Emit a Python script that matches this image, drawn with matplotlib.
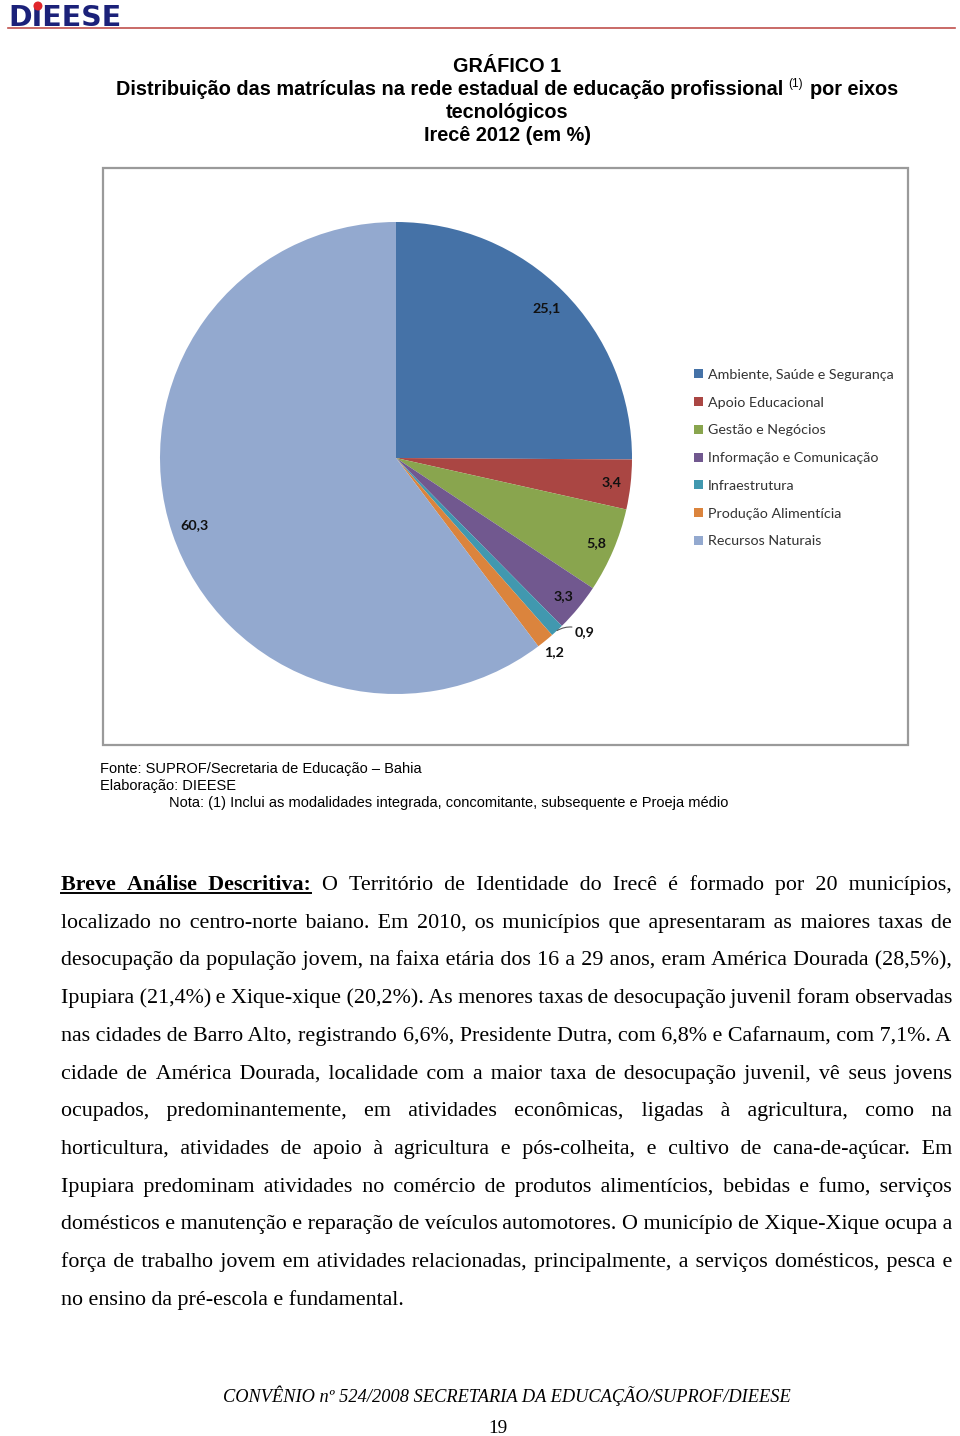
import matplotlib
matplotlib.use('Agg')
import matplotlib.pyplot as plt
from matplotlib.patches import Rectangle, Circle
from matplotlib.font_manager import FontProperties, findfont
from matplotlib.ft2font import FT2Font
from itertools import combinations_with_replacement
import numpy as np

W, H = 960, 1436

# chart data
categories = ['Ambiente, Saúde e Segurança', 'Apoio Educacional', 'Gestão e Negócios',
              'Informação e Comunicação', 'Infraestrutura', 'Produção Alimentícia',
              'Recursos Naturais']
shares = [25.1, 3.4, 5.8, 3.3, 0.9, 1.2, 60.3]
colors = ['#4572A7', '#AA4643', '#89A54E', '#71588F', '#4198AF', '#DB843D', '#93A9CF']
label_r = [0.90, 0.92, 0.92, 0.92, 1.0, 1.06, 0.90]

title_lines = ['GRÁFICO 1',
               'Distribuição das matrículas na rede estadual de educação profissional',
               'tecnológicos',
               'Irecê 2012 (em %)']
notes = ['Fonte: SUPROF/Secretaria de Educação – Bahia',
         'Elaboração: DIEESE',
         'Nota: (1) Inclui as modalidades integrada, concomitante, subsequente e Proeja médio']

paragraph = [
    'Breve Análise Descritiva: O Território de Identidade do Irecê é formado por 20 municípios,',
    'localizado no centro-norte baiano. Em 2010, os municípios que apresentaram as maiores taxas de',
    'desocupação da população jovem, na faixa etária dos 16 a 29 anos, eram América Dourada (28,5%),',
    'Ipupiara (21,4%) e Xique-xique (20,2%). As menores taxas de desocupação juvenil foram observadas',
    'nas cidades de Barro Alto, registrando 6,6%, Presidente Dutra, com 6,8% e Cafarnaum, com 7,1%. A',
    'cidade de América Dourada, localidade com a maior taxa de desocupação juvenil, vê seus jovens',
    'ocupados, predominantemente, em atividades econômicas, ligadas à agricultura, como na',
    'horticultura, atividades de apoio à agricultura e pós-colheita, e cultivo de cana-de-açúcar. Em',
    'Ipupiara predominam atividades no comércio de produtos alimentícios, bebidas e fumo, serviços',
    'domésticos e manutenção e reparação de veículos automotores. O município de Xique-Xique ocupa a',
    'força de trabalho jovem em atividades relacionadas, principalmente, a serviços domésticos, pesca e',
    'no ensino da pré-escola e fundamental.',
]
n_bold = 3  # "Breve Análise Descritiva:" is bold + underlined
footer = 'CONVÊNIO nº 524/2008 SECRETARIA DA EDUCAÇÃO/SUPROF/DIEESE'
page_no = '19'

SANS = 'Liberation Sans'
SERIF = 'Liberation Serif'
CHART_FONT = 'Lato'

fig = plt.figure(figsize=(W / 100, H / 100), dpi=100)
fig.patch.set_facecolor('white')

# overlay axes in pixel coords (y down)
ov = fig.add_axes([0, 0, 1, 1])
ov.set_xlim(0, W)
ov.set_ylim(H, 0)
ov.axis('off')
renderer = fig.canvas.get_renderer()


def text_w(s, **kw):
    t = ov.text(0, 0, s, **kw)
    w = t.get_window_extent(renderer).width
    t.remove()
    return w


def fp_w(s, fp):
    return renderer.get_text_width_height_descent(s, fp, ismath=False)[0]


# header logo
ov.text(8, 26, 'DIEESE', family='DejaVu Sans', weight='bold', fontsize=20.5,
        color='#1B2179', va='baseline', ha='left')
d_w = text_w('D', family='DejaVu Sans', weight='bold', fontsize=20.5)
i_w = text_w('DI', family='DejaVu Sans', weight='bold', fontsize=20.5) - d_w
ov.add_patch(Circle((8 + d_w + i_w / 2 + 1, 6), 3.8, color='#E0262B', zorder=5))
ov.plot([8, 955], [28, 28], color='#C0504D', lw=1.2)

# title
title_base = [72, 95, 118, 141]
cx = 507
for i, s in enumerate(title_lines):
    kw = dict(family=SANS, weight='bold', fontsize=14.3, va='baseline')
    if i == 1:
        sp = text_w('a a', **kw) - text_w('aa', **kw)
        sup_kw = dict(family=SANS, weight='normal', fontsize=8.5, va='baseline')
        w1 = text_w(s, **kw)
        w2 = text_w('(1)', **sup_kw)
        w3 = text_w('por eixos', **kw)
        total = w1 + sp + w2 + sp * 1.2 + w3
        x = cx - total / 2
        ov.text(x, title_base[i], s, ha='left', **kw)
        x += w1 + sp
        ov.text(x, title_base[i] - 8, '(1)', ha='left', **sup_kw)
        x += w2 + sp * 1.2
        ov.text(x, title_base[i], 'por eixos', ha='left', **kw)
    else:
        ov.text(cx, title_base[i], s, ha='center', **kw)

# chart frame
ov.add_patch(Rectangle((103, 168), 805, 577, fill=False, ec='#9A9A9A', lw=1.6))

# pie
pie_ax = fig.add_axes([160 / W, 1 - 694 / H, 472 / W, 472 / H])
wedges, _ = pie_ax.pie(shares, colors=colors, startangle=90, counterclock=False,
                       wedgeprops=dict(linewidth=0))
pie_ax.set_xlim(-1, 1)
pie_ax.set_ylim(-1, 1)
for w, v, r in zip(wedges, shares, label_r):
    ang = np.deg2rad((w.theta1 + w.theta2) / 2)
    x, y = r * np.cos(ang), r * np.sin(ang)
    lab = f'{v:.1f}'.replace('.', ',')
    kw = dict(family=CHART_FONT, weight='bold', fontsize=10.3, color='#111111')
    if v < 1:
        pie_ax.annotate(lab, xy=(x, y), xytext=(x + 0.075, y - 0.005), ha='left', va='center',
                        arrowprops=dict(arrowstyle='-', color='#555555', lw=0.8,
                                        connectionstyle='arc3,rad=0.3', shrinkA=0, shrinkB=0),
                        **kw)
    else:
        pie_ax.text(x, y, lab, ha='center', va='center', **kw)

fig.legend(wedges, categories, loc='upper left', bbox_to_anchor=(694 / W, 1 - 369 / H),
           frameon=False, borderpad=0, borderaxespad=0, handlelength=0.6, handleheight=0.6,
           handletextpad=0.35, labelspacing=1.1,
           prop=dict(family=CHART_FONT, size=10.3))
for t in fig.legends[0].get_texts():
    t.set_color('#333333')

# notes
note_base = [773, 790, 807]
note_x = [100, 100, 169]
for s, y, x in zip(notes, note_base, note_x):
    ov.text(x, y, s, family=SANS, fontsize=10.5, va='baseline', ha='left')

# justified paragraph: one text per style run, gaps built from the font's space glyphs
x0, x1 = 61, 952
base0, lead = 890, 37.7
fs = 15.8
fp_reg = FontProperties(family=SERIF, size=fs)
fp_bld = FontProperties(family=SERIF, size=fs, weight='bold')
SPACE_CHARS = [' '] + [chr(c) for c in range(0x2000, 0x200B)] + ['\u202f', '\u205f']


def space_combos(fp):
    ft = FT2Font(findfont(fp))
    chars = [ch for ch in SPACE_CHARS if ft.get_char_index(ord(ch))]
    base = fp_w('aa', fp)
    adv = {ch: fp_w('a' + ch + 'a', fp) - base for ch in chars}
    combos = {}
    for k in (1, 2, 3):
        for c in combinations_with_replacement(chars, k):
            total = sum(adv[ch] for ch in c)
            if total > 0:
                combos.setdefault(round(total, 2), ''.join(c))
    return sorted(combos.items())


combos_for = {id(fp_reg): space_combos(fp_reg), id(fp_bld): space_combos(fp_bld)}


def run_string(words, starts, fp):
    combos = combos_for[id(fp)]
    s = words[0]
    for wd, tx in zip(words[1:], starts[1:]):
        ww = fp_w(wd, fp)
        need = tx - (fp_w(s + wd, fp) - ww)
        sep = min(combos, key=lambda c: abs(c[0] - need))[1]
        s = s + sep + wd
    return s


for i, line in enumerate(paragraph):
    words = line.split(' ')
    y = base0 + i * lead
    fps = [fp_bld if (i == 0 and j < n_bold) else fp_reg for j in range(len(words))]
    widths = [fp_w(wd, f) for wd, f in zip(words, fps)]
    if i == len(paragraph) - 1:
        gap = fp_w('a a', fp_reg) - fp_w('aa', fp_reg)
    else:
        gap = (x1 - x0 - sum(widths)) / (len(words) - 1)
    starts = list(x0 + np.cumsum([0] + widths[:-1]) + gap * np.arange(len(words)))
    runs = []
    for j, f in enumerate(fps):
        if runs and runs[-1][0] is f:
            runs[-1][1].append(j)
        else:
            runs.append((f, [j]))
    for f, idx in runs:
        sx = starts[idx[0]]
        s = run_string([words[j] for j in idx], [starts[j] - sx for j in idx], f)
        ov.text(sx, y, s, va='baseline', ha='left', fontproperties=f)
        if f is fp_bld:
            ov.plot([sx, sx + fp_w(s, f)], [y + 3, y + 3], color='black', lw=1.4)

# footer
ov.text(507, 1402, footer, family=SERIF, style='italic', fontsize=13.2,
        ha='center', va='baseline')
ov.text(498, 1433, page_no, family=SERIF, fontsize=13.9, ha='center', va='baseline')

fig.savefig('out.png', dpi=100, facecolor='white')
